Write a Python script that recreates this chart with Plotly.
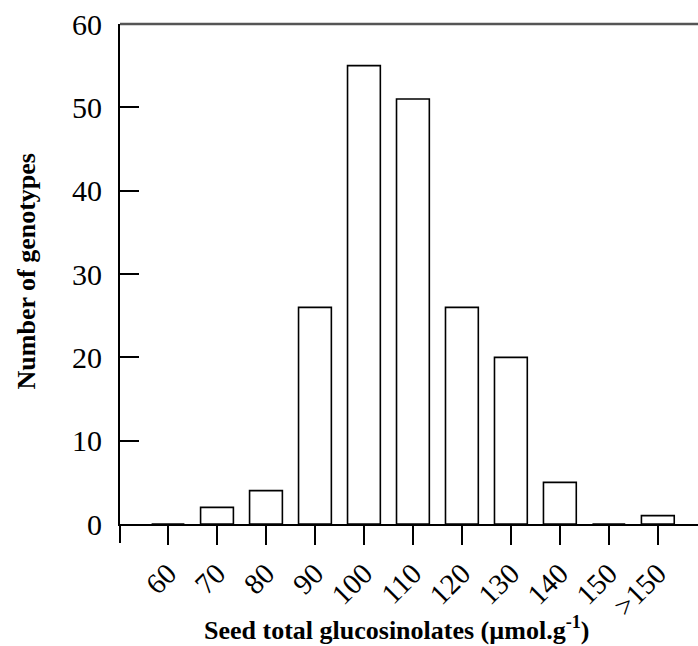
import plotly.graph_objects as go

categories = ["60", "70", "80", "90", "100", "110", "120", "130", "140", "150", ">150"]
counts = [0, 2, 4, 26, 55, 51, 26, 20, 5, 0, 1]
y_ticks = [0, 10, 20, 30, 40, 50, 60]

FONT = "Liberation Serif, Times New Roman, serif"

fig = go.Figure()
fig.add_trace(go.Bar(
    x=categories, y=counts,
    marker=dict(color="white", line=dict(color="black", width=1.6)),
    width=0.67,
))

fig.update_layout(
    width=698, height=646,
    margin=dict(l=120, r=0, t=24, b=122),
    plot_bgcolor="white", paper_bgcolor="white",
    showlegend=False,
    font=dict(family=FONT, color="black"),
)
fig.update_xaxes(
    type="category", range=[-0.98, 10.82],
    showline=True, linecolor="black", linewidth=2,
    ticks="outside", ticklen=19, tickwidth=2, tickcolor="black",
    tickangle=-45, tickfont=dict(size=29, family=FONT),
    showgrid=False, zeroline=False,
)
fig.update_yaxes(
    range=[0, 60], tickvals=y_ticks,
    showline=True, linecolor="black", linewidth=2,
    ticks="inside", ticklen=19, tickwidth=2, tickcolor="black",
    tickfont=dict(size=30, family=FONT), ticklabelstandoff=10,
    showgrid=False, zeroline=False,
)
# top border (gray) and left axis extension below baseline
fig.add_shape(type="line", xref="paper", yref="paper", x0=0, x1=1, y0=1, y1=1,
              line=dict(color="#555555", width=2.5))
fig.add_shape(type="line", xref="paper", yref="paper", x0=0, x1=0, y0=0, y1=-0.038,
              line=dict(color="black", width=2))

fig.add_annotation(text="<b>Seed total glucosinolates (µmol.g<sup>-1</sup>)</b>",
                   xref="paper", yref="paper", x=0.479, y=-0.208, yanchor="middle",
                   showarrow=False, font=dict(size=26, family=FONT))
fig.add_annotation(text="<b>Number of genotypes</b>", textangle=-90,
                   xref="paper", yref="paper", x=-0.161, y=0.505, xanchor="center",
                   showarrow=False, font=dict(size=26, family=FONT))

fig.write_html("out.html", config={"displayModeBar": False},
               post_script="document.body.style.margin='0';")
